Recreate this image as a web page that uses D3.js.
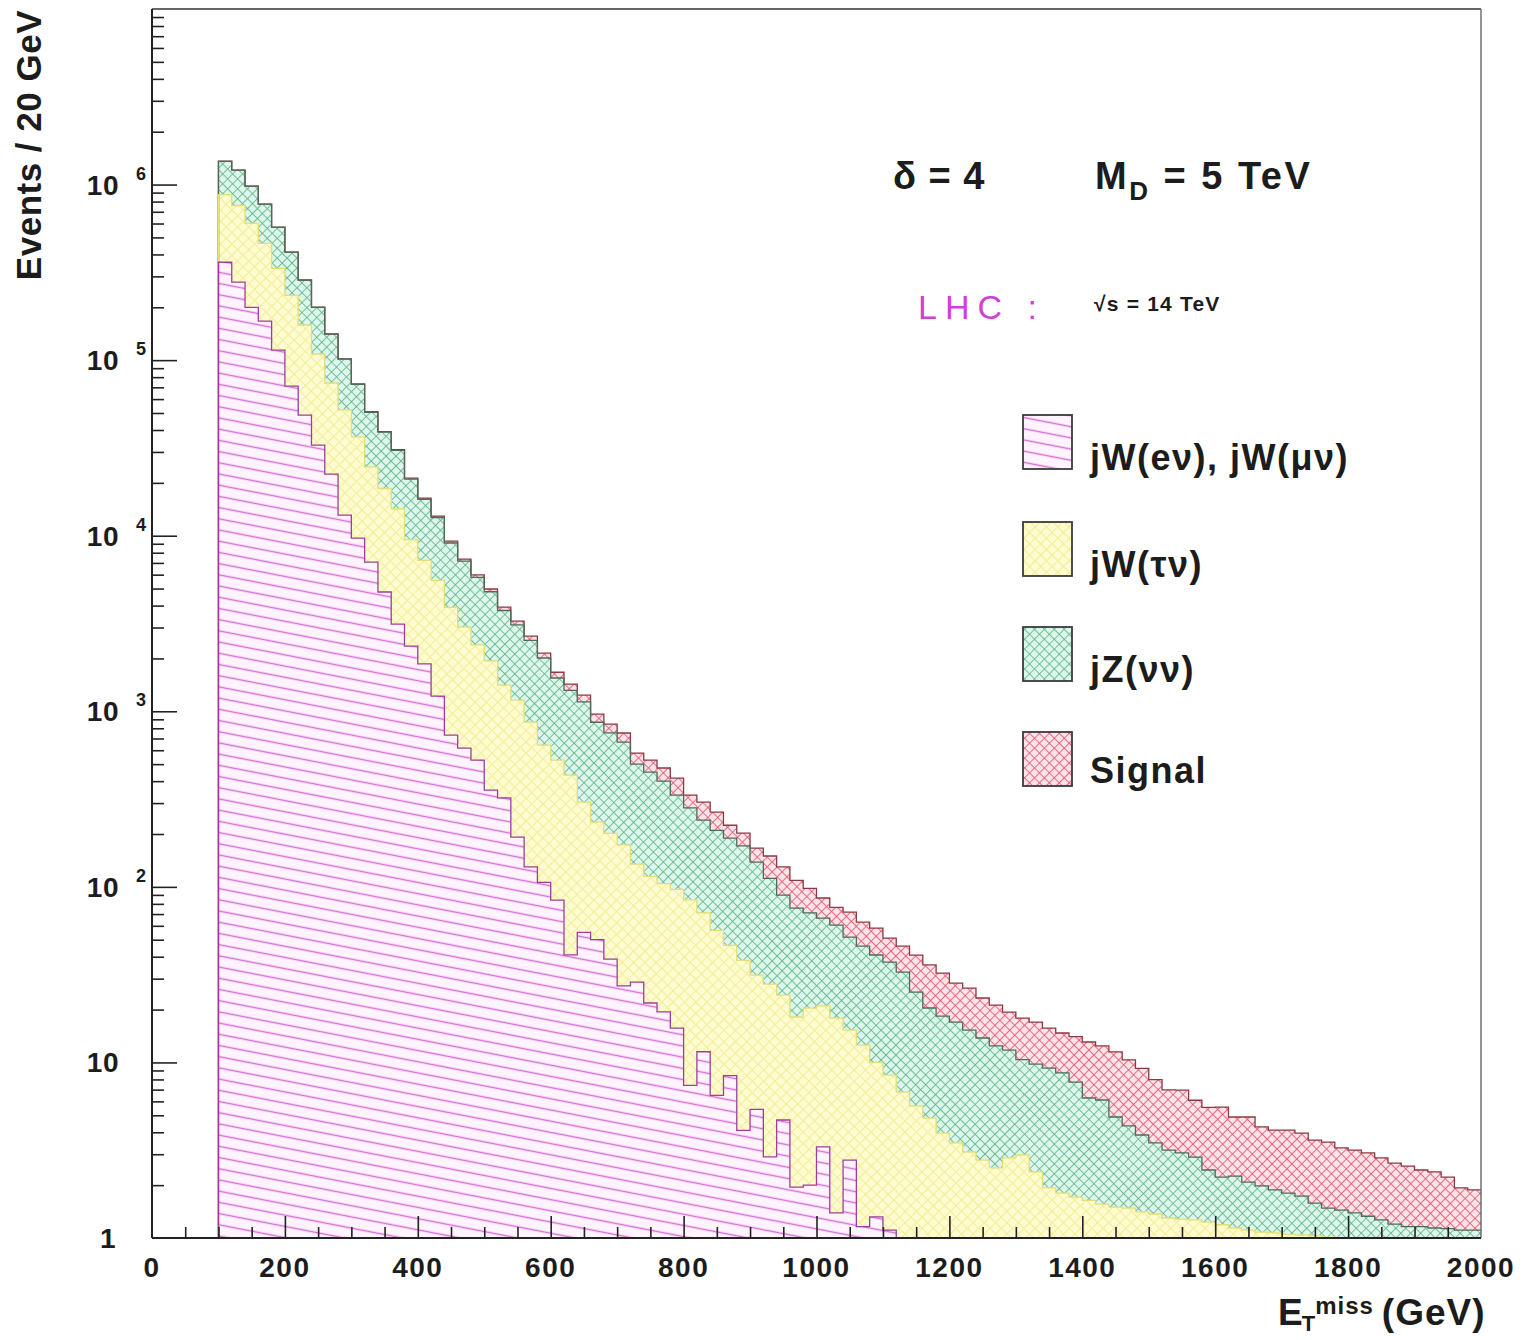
<!DOCTYPE html>
<html>
<head>
<meta charset="utf-8">
<script src="https://cdn.jsdelivr.net/npm/d3@7"></script>
<style>
  body { margin: 0; background: #fff; }
  svg { display: block; }
  text { font-family: "Liberation Sans", Arial, Helvetica, sans-serif; }
</style>
</head>
<body>
<svg id="chart" width="1531" height="1340"></svg>
<script>
// Missing transverse energy spectrum, 20 GeV bins starting at 100 GeV.
const binStart = 100;
const binWidth = 20;

// Events per 20 GeV bin for each process (bins 100-120, 120-140, ... 1980-2000).
const jWenuMunu = [
  361000, 278000, 200000, 167000, 114000, 71100, 48600, 32800, 22400, 13100,
  9680, 7080, 4780, 3140, 2350, 1860, 1220, 731, 617, 527,
  356, 321, 192, 130, 106, 84, 41, 55, 50, 38.8,
  27.3, 28.7, 21.8, 19.4, 15.7, 7.4, 11.5, 6.5, 8.4, 4.1,
  5.4, 2.9, 4.7, 1.95, 2.0, 3.3, 1.39, 2.78, 1.16, 1.32,
  1.11, 0, 0, 0, 0, 0, 0, 0, 0, 0,
  0, 0, 0, 0, 0, 0, 0, 0, 0, 0,
  0, 0, 0, 0, 0, 0, 0, 0, 0, 0,
  0, 0, 0, 0, 0, 0, 0, 0, 0, 0,
  0, 0, 0, 0, 0
];
const jWtaunu = [
  516000, 482000, 401000, 295000, 219000, 163000, 110000, 75600, 51700, 39000,
  26900, 17600, 13800, 11100, 7160, 5370, 4350, 3180, 2400, 1860,
  1580, 1090, 967, 737, 535, 443, 392, 249, 184, 163,
  146, 106, 93, 85, 81, 77, 59.5, 50, 38, 34,
  26, 25, 19.5, 16.2, 18.4, 17.7, 16.5, 12.5, 11.4, 8.7,
  7.36, 6.78, 5.65, 4.82, 3.96, 3.48, 3.09, 2.78, 2.51, 2.86,
  2.97, 2.38, 1.93, 1.80, 1.71, 1.64, 1.56, 1.50, 1.48, 1.41,
  1.37, 1.30, 1.28, 1.27, 1.23, 1.19, 1.14, 1.11, 1.08, 1.07,
  1.05, 1.04, 1.03, 1.01, 0.9, 0.8, 0.75, 0.7, 0.65, 0.6,
  0.6, 0.55, 0.55, 0.5, 0.5
];
const jZnunu = [
  480000, 448000, 378000, 311000, 238000, 178000, 127000, 91600, 66400, 49200,
  36200, 25800, 20300, 16400, 11500, 8890, 7130, 5180, 4140, 3400,
  2860, 2340, 1950, 1670, 1370, 1020, 882, 826, 632, 552,
  494, 365, 336, 296, 236, 197, 169, 153, 143, 133,
  107, 84, 65.6, 57.6, 50.6, 45.4, 42.6, 36.5, 33.4, 30.9,
  28.8, 25.9, 19.5, 15.6, 14.4, 13.5, 12.2, 11.0, 9.9, 8.9,
  7.4, 7.4, 7.36, 6.91, 6.02, 4.63, 4.55, 3.39, 2.87, 2.45,
  2.11, 1.87, 1.77, 1.62, 1.21, 1.03, 1.11, 0.97, 0.90, 0.81,
  0.75, 0.69, 0.55, 0.47, 0.54, 0.59, 0.58, 0.57, 0.55, 0.56,
  0.56, 0.59, 0.58, 0.61, 0.61
];
const signal = [
  773, 718, 667, 619, 575, 535, 497, 461, 429, 398,
  370, 344, 319, 296, 275, 256, 238, 221, 205, 191,
  177, 164, 153, 142, 132, 122, 114, 106, 98, 91,
  85, 78, 76, 75, 84, 52, 64, 57, 35, 31,
  28, 38, 40, 33, 27, 20, 16, 20, 17, 17.3,
  13.8, 13.3, 15.7, 15.5, 13.9, 11.3, 11.2, 9.5, 8.8, 7.6,
  7.5, 7.2, 6.4, 6.0, 6.3, 6.8, 6.3, 6.6, 6.0, 5.4,
  4.5, 3.8, 3.9, 3.2, 3.1, 3.35, 2.64, 2.81, 2.31, 2.24,
  2.32, 2.23, 2.03, 2.04, 1.82, 1.78, 1.72, 1.59, 1.47, 1.41,
  1.28, 1.24, 1.09, 0.82, 0.77
];

const seriesKeys = ["jWenuMunu", "jWtaunu", "jZnunu", "signal"];
const seriesLabels = ["jW(e\u03bd), jW(\u03bc\u03bd)", "jW(\u03c4\u03bd)", "jZ(\u03bd\u03bd)", "Signal"];

const xTickMajor = [0, 200, 400, 600, 800, 1000, 1200, 1400, 1600, 1800, 2000];
const yDecades = [1, 10, 100, 1e3, 1e4, 1e5, 1e6];

// ---------------------------------------------------------------------------
const svg = d3.select("#chart");
const plot = { left: 152, right: 1481, top: 9, bottom: 1238 };

const x = d3.scaleLinear().domain([0, 2000]).range([plot.left, plot.right]);
const y = d3.scaleLog().domain([1, 1e7]).range([plot.bottom, plot.top]);

// rows: one per bin, plus a closing row at the upper edge of the last bin
const rows = jWenuMunu.map((_, i) => ({
  lo: binStart + i * binWidth,
  jWenuMunu: jWenuMunu[i], jWtaunu: jWtaunu[i], jZnunu: jZnunu[i], signal: signal[i]
}));
const stacked = d3.stack().keys(seriesKeys)(rows);
stacked.forEach(layer => {
  const last = layer[layer.length - 1];
  const extra = [last[0], last[1]];
  extra.data = { lo: last.data.lo + binWidth };
  layer.push(extra);
});

const clampY = v => y(Math.max(v, 1));

// ---- fill patterns -------------------------------------------------------
const defs = svg.append("defs");

function crossHatch(id, size, bg, line, lw) {
  const p = defs.append("pattern").attr("id", id)
    .attr("patternUnits", "userSpaceOnUse")
    .attr("width", size).attr("height", size)
    .attr("patternTransform", "rotate(45)");
  p.append("rect").attr("width", size).attr("height", size).attr("fill", bg);
  p.append("line").attr("x1", 0).attr("y1", 0).attr("x2", size).attr("y2", 0)
    .attr("stroke", line).attr("stroke-width", lw);
  p.append("line").attr("x1", 0).attr("y1", 0).attr("x2", 0).attr("y2", size)
    .attr("stroke", line).attr("stroke-width", lw);
}

// near-horizontal line hatch for the electron/muon channel
(function () {
  const p = defs.append("pattern").attr("id", "fill-ew")
    .attr("patternUnits", "userSpaceOnUse")
    .attr("width", 40).attr("height", 11)
    .attr("patternTransform", "rotate(11)");
  p.append("rect").attr("width", 40).attr("height", 11).attr("fill", "#fff3fd");
  p.append("line").attr("x1", 0).attr("y1", 5.5).attr("x2", 40).attr("y2", 5.5)
    .attr("stroke", "#d56fd5").attr("stroke-width", 1.3);
})();
crossHatch("fill-tau", 8, "#fffcd2", "#f3ee98", 2.2);
crossHatch("fill-z", 7, "#def7ee", "#5fb683", 1.7);
crossHatch("fill-sig", 7, "#ffe3ea", "#e2566c", 1.7);

const fills = ["url(#fill-ew)", "url(#fill-tau)", "url(#fill-z)", "url(#fill-sig)"];
const edges = ["#9b3f9b", "#e6dc78", "#4d6b58", "#8a3a42"];

// ---- histogram stack -----------------------------------------------------
defs.append("clipPath").attr("id", "plot-clip")
  .append("rect")
  .attr("x", plot.left).attr("y", plot.top)
  .attr("width", plot.right - plot.left).attr("height", plot.bottom - plot.top);

const area = d3.area()
  .curve(d3.curveStepAfter)
  .x(d => x(d.data.lo))
  .y0(d => clampY(d[0]))
  .y1(d => clampY(d[1]));

const topLine = d3.line()
  .curve(d3.curveStepAfter)
  .x(d => x(d.data.lo))
  .y(d => clampY(d[1]));

const g = svg.append("g").attr("clip-path", "url(#plot-clip)");

g.selectAll("path.layer")
  .data(stacked)
  .join("path")
  .attr("class", "layer")
  .attr("d", area)
  .attr("fill", (d, i) => fills[i]);

// outline of each cumulative histogram, starting with the left edge at 100 GeV;
// the tallest one is stroked first so lower outlines stay visible on top
const edgeOrder = stacked.map((d, i) => ({ layer: d, i })).reverse();
g.selectAll("path.edge")
  .data(edgeOrder)
  .join("path")
  .attr("class", "edge")
  .attr("d", d => {
    const first = [0, 1];
    first.data = { lo: binStart };
    return topLine([first].concat(d.layer));
  })
  .attr("fill", "none")
  .attr("stroke", d => edges[d.i])
  .attr("stroke-width", 1.3)
  .attr("stroke-linejoin", "miter");

// ---- frame and axes ------------------------------------------------------
svg.append("line")
  .attr("x1", plot.left).attr("x2", plot.right)
  .attr("y1", plot.top).attr("y2", plot.top)
  .attr("stroke", "#333").attr("stroke-width", 1.6);
svg.append("line")
  .attr("x1", plot.right).attr("x2", plot.right)
  .attr("y1", plot.top).attr("y2", plot.bottom)
  .attr("stroke", "#666").attr("stroke-width", 1.4);

const yMinor = [];
for (let e = 0; e < 7; e++) for (let k = 2; k <= 9; k++) yMinor.push(k * Math.pow(10, e));

const yAxisMinor = d3.axisRight(y).tickValues(yMinor).tickSize(12).tickFormat("");
const yAxisMajor = d3.axisRight(y).tickValues(yDecades.slice(1)).tickSize(25).tickFormat("");
[yAxisMinor, yAxisMajor].forEach(ax => {
  const a = svg.append("g").attr("transform", `translate(${plot.left},0)`).call(ax);
  a.select(".domain").remove();
  a.selectAll("line").attr("stroke", "#222").attr("stroke-width", 1.6);
});

const xMinor = d3.range(0, 2001, 50).filter(v => v % 200 !== 0);
const xAxisMinor = d3.axisTop(x).tickValues(xMinor).tickSize(11).tickFormat("");
const xAxisMajor = d3.axisTop(x).tickValues(xTickMajor.slice(1, -1)).tickSize(22).tickFormat("");
[xAxisMinor, xAxisMajor].forEach(ax => {
  const a = svg.append("g").attr("transform", `translate(0,${plot.bottom})`).call(ax);
  a.select(".domain").remove();
  a.selectAll("line").attr("stroke", "#222").attr("stroke-width", 1.6);
});

svg.append("line")
  .attr("x1", plot.left).attr("x2", plot.left)
  .attr("y1", plot.top).attr("y2", plot.bottom)
  .attr("stroke", "#222").attr("stroke-width", 2);
svg.append("line")
  .attr("x1", plot.left).attr("x2", plot.right)
  .attr("y1", plot.bottom).attr("y2", plot.bottom)
  .attr("stroke", "#222").attr("stroke-width", 2);

// y tick labels: 1, 10, 10^2 ... 10^6
yDecades.forEach(v => {
  const e = Math.round(Math.log10(v));
  svg.append("text")
    .attr("x", e === 0 ? 116 : 119)
    .attr("y", y(v) + 10)
    .attr("text-anchor", "end")
    .attr("font-size", 28).attr("font-weight", "bold").attr("fill", "#1c1c1c")
    .attr("letter-spacing", 0.5)
    .text(e === 0 ? "1" : "10");
  if (e >= 2) {
    svg.append("text")
      .attr("x", 136).attr("y", y(v) - 5)
      .attr("font-size", 18).attr("font-weight", "bold").attr("fill", "#1c1c1c")
      .text(e);
  }
});

// x tick labels
svg.selectAll("text.xlab")
  .data(xTickMajor)
  .join("text")
  .attr("class", "xlab")
  .attr("x", d => x(d))
  .attr("y", 1277)
  .attr("text-anchor", "middle")
  .attr("font-size", 28).attr("font-weight", "bold").attr("fill", "#1c1c1c")
  .attr("letter-spacing", 1.5)
  .text(d => d);

// axis titles
svg.append("text")
  .attr("transform", `translate(41,${plot.top + 1}) rotate(-90)`)
  .attr("text-anchor", "end")
  .attr("font-size", 35).attr("font-weight", "bold").attr("fill", "#1c1c1c")
  .attr("letter-spacing", 0.5)
  .text("Events / 20 GeV");

const xt = svg.append("text")
  .attr("x", 1278).attr("y", 1325)
  .attr("font-weight", "bold").attr("fill", "#1c1c1c").attr("font-size", 37)
  .attr("letter-spacing", 1);
xt.append("tspan").text("E");
xt.append("tspan").attr("font-size", 22).attr("dy", 6).attr("dx", -2).text("T");
xt.append("tspan").attr("font-size", 24).attr("dy", -17).attr("dx", -1).text("miss");
xt.append("tspan").attr("dy", 11).attr("dx", 8).text("(GeV)");

// ---- annotations ---------------------------------------------------------
svg.append("text")
  .attr("x", 893).attr("y", 189)
  .attr("font-size", 38).attr("font-weight", "bold").attr("fill", "#1c1c1c")
  .attr("letter-spacing", 1)
  .text("\u03b4 = 4");

const md = svg.append("text")
  .attr("x", 1095).attr("y", 189)
  .attr("font-size", 38).attr("font-weight", "bold").attr("fill", "#1c1c1c")
  .attr("letter-spacing", 2.5);
md.append("tspan").text("M");
md.append("tspan").attr("font-size", 26).attr("dy", 11).text("D");
md.append("tspan").attr("dy", -11).text(" = 5 TeV");

svg.append("text")
  .attr("x", 918).attr("y", 319)
  .attr("font-family", "DejaVu Sans, sans-serif")
  .attr("font-size", 34).attr("fill", "#d13fd6")
  .attr("letter-spacing", 8)
  .text("LHC :");

svg.append("text")
  .attr("x", 1094).attr("y", 311)
  .attr("font-size", 21).attr("font-weight", "bold").attr("fill", "#1c1c1c")
  .attr("letter-spacing", 1.2)
  .text("\u221as = 14 TeV");

// ---- legend --------------------------------------------------------------
const legendTop = [415, 522, 627, 732];
const leg = svg.append("g");
seriesLabels.forEach((lab, i) => {
  leg.append("rect")
    .attr("x", 1023).attr("y", legendTop[i])
    .attr("width", 49).attr("height", 54)
    .attr("fill", fills[i])
    .attr("stroke", "#3a3a3a").attr("stroke-width", 1.8);
  leg.append("text")
    .attr("x", 1090).attr("y", legendTop[i] + 55 - (i === 3 ? 4 : 0))
    .attr("font-size", 36).attr("font-weight", "bold").attr("fill", "#1c1c1c")
    .attr("letter-spacing", 1.5)
    .text(lab);
});
</script>
</body>
</html>
